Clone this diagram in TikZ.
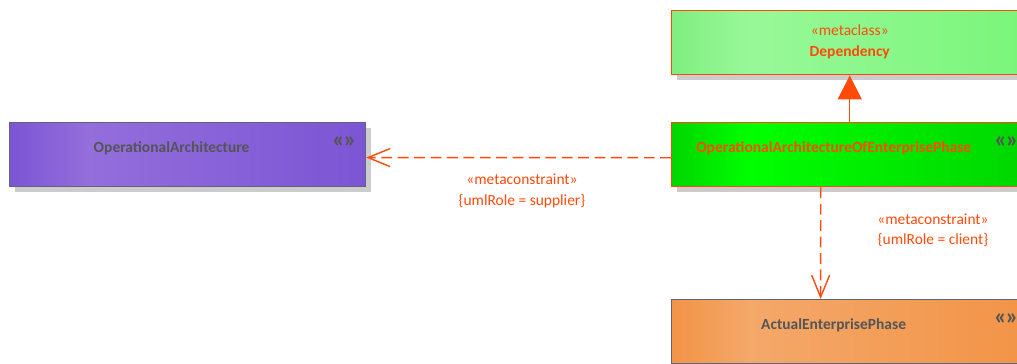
\documentclass[tikz,border=0pt]{standalone}
\usepackage{fontspec}
\setmainfont{Carlito}
\usetikzlibrary{arrows.meta,calc,shadows}
\definecolor{eared}{HTML}{FF4A0A}
\definecolor{eatext}{HTML}{555555}
\definecolor{eaframe}{HTML}{5C6480}
\pgfdeclarehorizontalshading{eapurple}{100bp}{color(0bp)=(rgb,255:red,123;green,85;blue,212); color(25bp)=(rgb,255:red,123;green,85;blue,212); color(36bp)=(rgb,255:red,148;green,110;blue,219); color(75bp)=(rgb,255:red,123;green,85;blue,212); color(100bp)=(rgb,255:red,123;green,85;blue,212)}
\pgfdeclarehorizontalshading{eaorange}{100bp}{color(0bp)=(rgb,255:red,242;green,148;blue,71); color(25bp)=(rgb,255:red,242;green,148;blue,71); color(36bp)=(rgb,255:red,244;green,168;blue,106); color(75bp)=(rgb,255:red,242;green,148;blue,71); color(100bp)=(rgb,255:red,242;green,148;blue,71)}
\pgfdeclarehorizontalshading{eagreen}{100bp}{color(0bp)=(rgb,255:red,0;green,214;blue,0); color(25bp)=(rgb,255:red,0;green,214;blue,0); color(36bp)=(rgb,255:red,0;green,255;blue,0); color(75bp)=(rgb,255:red,0;green,214;blue,0); color(100bp)=(rgb,255:red,0;green,214;blue,0)}
\pgfdeclarehorizontalshading{ealight}{100bp}{color(0bp)=(rgb,255:red,128;green,238;blue,128); color(25bp)=(rgb,255:red,128;green,238;blue,128); color(36bp)=(rgb,255:red,152;green,248;blue,152); color(75bp)=(rgb,255:red,122;green,246;blue,122); color(100bp)=(rgb,255:red,122;green,246;blue,122)}

\begin{document}
\begin{tikzpicture}[x=0.025cm,y=-0.025cm,font=\fontsize{11}{13}\selectfont,
  box/.style={line width=0.8pt,minimum width=8.9cm,minimum height=1.6cm,
    anchor=north west,inner sep=0pt,
    general shadow={fill=black!20,shadow xshift=0.125cm,shadow yshift=-0.125cm}},
  title/.style={font=\fontsize{11}{13}\selectfont\bfseries,text=eatext},
  stereo/.style={font=\fontsize{17}{17}\selectfont\bfseries,text=eatext},
  lbl/.style={text=eared,align=center,font=\fontsize{11}{14.5}\selectfont},
  dep/.style={eared,line width=1pt,dash pattern=on 0.27cm off 0.14cm,
    -{Straight Barb[length=0.55cm,width=0.45cm,line width=1pt]}},
  gen/.style={eared,line width=1pt,-{Triangle[length=0.6cm,width=0.6cm]}}]
  \useasboundingbox (0,0) rectangle (1017,363);
  \clip (0,0) rectangle (1017,363);

  % metaclass
  \node[box,draw=eared,line width=1pt,shading=ealight] (dep) at (671,10) {};
  \node[lbl] (dep-t) at ($(dep.center)+(0,-1)$) {«metaclass»\\\textbf{Dependency}};

  % elements
  \node[box,draw=eared,line width=1pt,shading=eagreen] (opaoep) at (671,122) {};
  \node[title,text=eared] (opaoep-t) at ($(opaoep.center)+(-16,-6)$) {OperationalArchitectureOfEnterprisePhase};
  \node[stereo] (opaoep-s) at ($(opaoep.north east)+(-22,20)$) {«\kern-1pt»};

  \node[box,draw=eaframe,shading=eapurple] (oa) at (9,122) {};
  \node[title] (oa-t) at ($(oa.center)+(-16,-6)$) {OperationalArchitecture};
  \node[stereo] (oa-s) at ($(oa.north east)+(-22,20)$) {«\kern-1pt»};

  \node[box,draw=eaframe,shading=eaorange] (aep) at (671,299) {};
  \node[title] (aep-t) at ($(aep.center)+(-16,-6)$) {ActualEnterprisePhase};
  \node[stereo] (aep-s) at ($(aep.north east)+(-22,20)$) {«\kern-1pt»};

  % connectors
  \draw[gen] (opaoep.north) -- (dep.south);
  \draw[dep] ($(opaoep.west)+(0,3)$) -- ($(oa.east)+(0,3)$);
  \draw[dep] ($(opaoep.south)+(-29,0)$) -- ($(aep.north)+(-29,0)$);
  \node[lbl] (sup-l) at (522,191) {«metaconstraint»\\\{umlRole = supplier\}};
  \node[lbl] (cli-l) at (933,230) {«metaconstraint»\\\{umlRole = client\}};
\end{tikzpicture}
\end{document}
